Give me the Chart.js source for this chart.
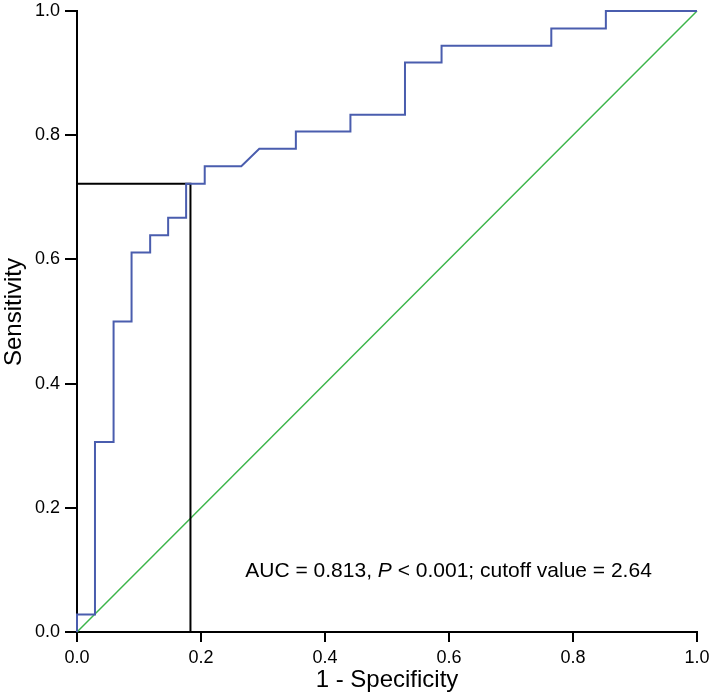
<!DOCTYPE html>
<html>
<head>
<meta charset="utf-8">
<script src="https://cdn.jsdelivr.net/npm/chart.js@4"></script>
<style>
  html, body { margin: 0; padding: 0; background: #fff; }
  #wrap { width: 709px; height: 696px; }
</style>
</head>
<body>
<div id="wrap"><canvas id="roc" width="709" height="696"></canvas></div>
<script>
// ROC 曲线顶点 (1 - 特异度, 灵敏度)
const fpr = [0, 0, 0.029, 0.029, 0.059, 0.059, 0.088, 0.088, 0.118, 0.118, 0.147, 0.147,
  0.176, 0.176, 0.206, 0.206, 0.265, 0.294, 0.353, 0.353, 0.441, 0.441, 0.529, 0.529,
  0.588, 0.588, 0.765, 0.765, 0.853, 0.853, 1.0];
const tpr = [0, 0.028, 0.028, 0.306, 0.306, 0.5, 0.5, 0.611, 0.611, 0.639, 0.639, 0.667,
  0.667, 0.722, 0.722, 0.75, 0.75, 0.778, 0.778, 0.806, 0.806, 0.833, 0.833, 0.917,
  0.917, 0.944, 0.944, 0.972, 0.972, 1.0, 1.0];

// 参考线和截断点
const refX = [0, 1];
const refY = [0, 1];
const cutoffX = [0, 0.183, 0.183];
const cutoffY = [0.722, 0.722, 0];

const ticks = [0, 0.2, 0.4, 0.6, 0.8, 1.0];
const xTitle = '1 - Specificity';
const yTitle = 'Sensitivity';
const noteParts = [
  { text: 'AUC = 0.813, ', italic: false },
  { text: 'P', italic: true },
  { text: ' < 0.001; cutoff value = 2.64', italic: false }
];

const FONT = '"Liberation Sans", Arial, Helvetica, sans-serif';

function toPoints(xs, ys) {
  return xs.map((x, i) => ({ x: x, y: ys[i] }));
}

// 轴标题和注释文字
const textPlugin = {
  id: 'rocText',
  afterDraw(chart) {
    const ctx = chart.ctx;
    const xs = chart.scales.x;
    const ys = chart.scales.y;
    const area = chart.chartArea;
    ctx.save();
    ctx.fillStyle = '#000';

    ctx.font = '24px ' + FONT;
    ctx.textAlign = 'center';
    ctx.textBaseline = 'middle';
    ctx.fillText(xTitle, (area.left + area.right) / 2, 680);

    ctx.save();
    ctx.translate(14, 312);
    ctx.rotate(-Math.PI / 2);
    ctx.fillText(yTitle, 0, 0);
    ctx.restore();

    ctx.textAlign = 'left';
    ctx.textBaseline = 'alphabetic';
    let px = xs.getPixelForValue(0.2715);
    const py = ys.getPixelForValue(0.0886);
    noteParts.forEach(p => {
      ctx.font = (p.italic ? 'italic ' : '') + '21px ' + FONT;
      ctx.fillText(p.text, px, py);
      px += ctx.measureText(p.text).width;
    });
    ctx.restore();
  }
};

function axisOptions(tickLen, fitKey, fitVal) {
  return {
    type: 'linear',
    min: 0,
    max: 1,
    afterBuildTicks: scale => { scale.ticks = ticks.map(v => ({ value: v })); },
    afterFit: scale => {
      scale[fitKey] = fitVal;
      scale.paddingLeft = 0;
      scale.paddingRight = 0;
      scale.paddingTop = 0;
      scale.paddingBottom = 0;
    },
    grid: {
      drawOnChartArea: false,
      drawTicks: true,
      tickLength: tickLen,
      color: '#000',
      lineWidth: 2
    },
    border: { display: true, color: '#000', width: 2 },
    ticks: {
      color: '#000',
      padding: 5,
      font: { family: FONT, size: 18 },
      callback: v => Number(v).toFixed(1)
    }
  };
}

new Chart(document.getElementById('roc').getContext('2d'), {
  type: 'scatter',
  data: {
    datasets: [
      {
        data: toPoints(fpr, tpr),
        showLine: true,
        borderColor: '#4a5dae',
        borderWidth: 2,
        pointRadius: 0,
        tension: 0,
        clip: false
      },
      {
        data: toPoints(cutoffX, cutoffY),
        showLine: true,
        borderColor: '#000',
        borderWidth: 2,
        pointRadius: 0,
        clip: false
      },
      {
        data: toPoints(refX, refY),
        showLine: true,
        borderColor: '#3cb54a',
        borderWidth: 1.5,
        pointRadius: 0,
        clip: false
      }
    ]
  },
  options: {
    responsive: false,
    animation: false,
    devicePixelRatio: 1,
    layout: { padding: { top: 11, right: 12, left: 0, bottom: 0 } },
    scales: {
      x: axisOptions(10, 'height', 64),
      y: axisOptions(12, 'width', 77)
    },
    plugins: {
      legend: { display: false },
      tooltip: { enabled: false }
    }
  },
  plugins: [textPlugin]
});
</script>
</body>
</html>
